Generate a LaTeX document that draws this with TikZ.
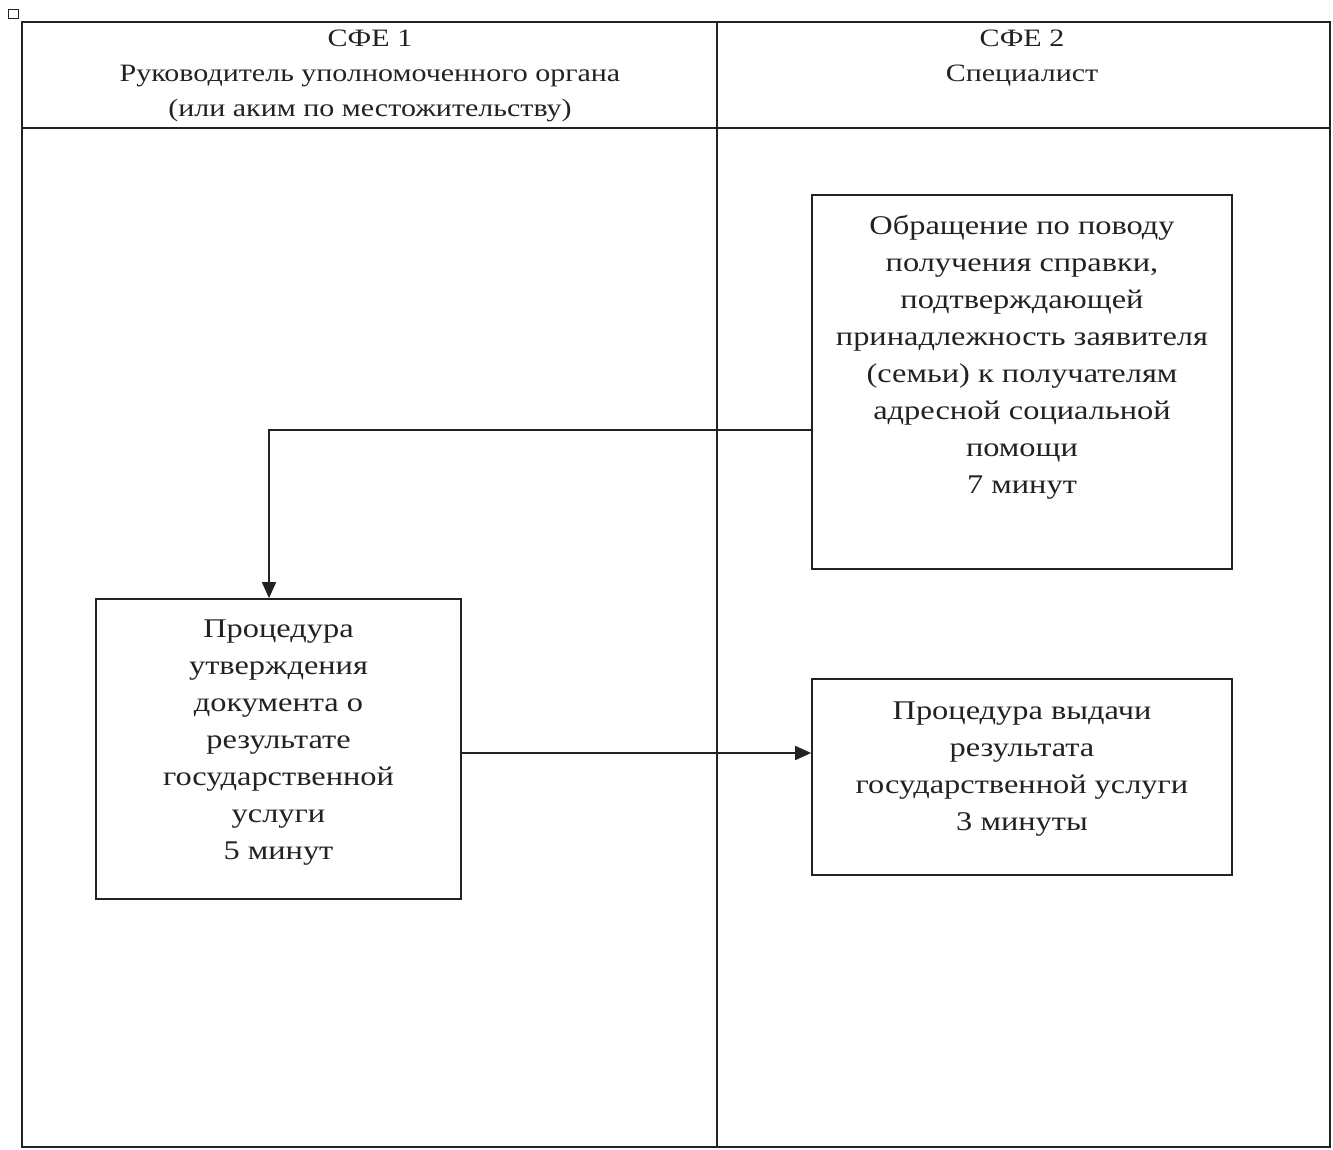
\documentclass[tikz,border=0pt]{standalone}
\usepackage{fontspec}
\setmainfont[FakeStretch=1.2]{Liberation Serif}
\usetikzlibrary{arrows.meta}
\definecolor{ink}{HTML}{222222}
\tikzset{
  frame/.style={draw=ink, line width=1.8pt},
  box/.style={draw=ink, line width=1.7pt, rectangle, inner sep=0pt},
  txt/.style={align=center, text=ink, inner sep=0pt, font=\fontsize{27}{37}\selectfont},
  htxt/.style={align=center, text=ink, inner sep=0pt, font=\fontsize{25}{35}\selectfont},
  conn/.style={draw=ink, line width=1.6pt, -{Triangle[length=16pt,width=14pt]}}
}
\begin{document}
\begin{tikzpicture}[x=1pt,y=-1pt]
\useasboundingbox (0,0) rectangle (1333,1150);
\fill[white] (0,0) rectangle (1333,1150);
% small icon
\node[draw=ink, line width=1pt, minimum width=10pt, minimum height=9pt, inner sep=0pt] (icon) at (13,14) {};
% outer frame and lanes
\draw[frame] (22,22) rectangle (1330,1147);
\draw[frame] (22,128) -- (1330,128);
\draw[frame] (717,22) -- (717,1147);
% headers
\node[htxt] (h1) at (370,76) {СФЕ 1\\Руководитель уполномоченного органа\\(или аким по местожительству)};
\node[htxt] (h2) at (1022,58) {СФЕ 2\\Специалист};
% boxes
\node[box, minimum width=420pt, minimum height=374pt] (a) at (1022,382) {};
\node[txt] (at) at (1022,357) {Обращение по поводу\\получения справки,\\подтверждающей\\принадлежность заявителя\\(семьи) к получателям\\адресной социальной\\помощи\\7 минут};
\node[box, minimum width=365pt, minimum height=300pt] (b) at (278.5,749) {};
\node[txt] (bt) at (278.5,743) {Процедура\\утверждения\\документа о\\результате\\государственной\\услуги\\5 минут};
\node[box, minimum width=420pt, minimum height=196pt] (c) at (1022,777) {};
\node[txt] (ct) at (1022,769) {Процедура выдачи\\результата\\государственной услуги\\3 минуты};
% connectors
\coordinate (bend) at (269,430);
\draw[conn] (a.west |- bend) -- (bend) -- (bend |- b.north);
\draw[conn] (b.east |- 0,753) -- (c.west |- 0,753);
\end{tikzpicture}
\end{document}
